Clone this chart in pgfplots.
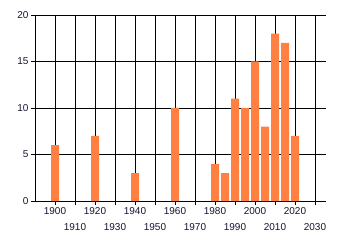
\documentclass[border=0pt]{standalone}
\usepackage{fontspec}
\setmainfont{Liberation Sans}
\usepackage{pgfplots}
\pgfplotsset{compat=1.18}
\definecolor{barorange}{RGB}{255,128,64}
\definecolor{txt}{RGB}{20,20,50}
\begin{document}
\begin{tikzpicture}
\begin{axis}[
  scale only axis,
  width=291bp, height=186bp,
  xmin=1890, xmax=2035.5,
  ymin=0, ymax=20,
  axis x line*=bottom, axis y line*=left,
  axis line style={black, line width=0.9bp},
  xtick={1900,1920,1940,1960,1980,2000,2020},
  xticklabels={1900,1920,1940,1960,1980,2000,2020},
  extra x ticks={1910,1930,1950,1970,1990,2010,2030},
  extra x tick labels={1910,1930,1950,1970,1990,2010,2030},
  extra x tick style={grid=major, xticklabel style={yshift=-16bp}},
  ytick={0,5,10,15,20},
  xtick pos=bottom, ytick pos=left,
  tick align=outside,
  major tick length=4bp,
  tick style={black, line width=0.9bp},
  grid=major,
  major grid style={black, line width=0.9bp},
  /pgf/number format/assume math mode=true,
  /pgf/number format/1000 sep={},
  tick label style={font=\fontsize{10bp}{12bp}\selectfont, text=txt},
  xticklabel style={yshift=1bp},
  yticklabel style={xshift=1bp},
]
\addplot[ybar, bar width=4, bar shift=0pt, fill=barorange, draw=none] coordinates {
  (1900,6) (1920,7) (1940,3) (1960,10) (1980,4) (1985,3) (1990,11)
  (1995,10) (2000,15) (2005,8) (2010,18) (2015,17) (2020,7)
};
\end{axis}
\path[use as bounding box] (-35bp,-44bp) rectangle (305bp,201bp);
\end{tikzpicture}
\end{document}
